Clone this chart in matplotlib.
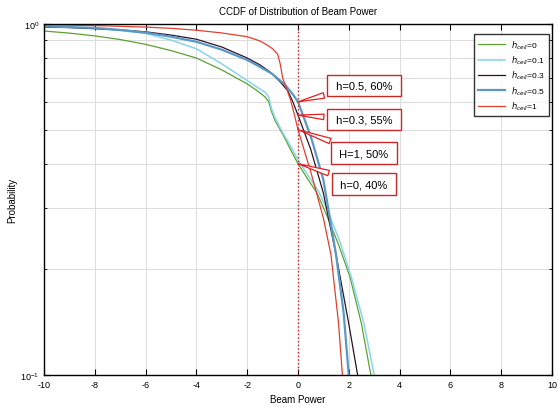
import numpy as np
import matplotlib
matplotlib.use("Agg")
import matplotlib.pyplot as plt
from matplotlib.ticker import LogLocator, NullFormatter, FixedLocator

plt.rcParams['font.family'] = ['Liberation Sans', 'DejaVu Sans']
plt.rcParams['axes.unicode_minus'] = False

# CCDF curves (x = beam power, p = probability)
x_h0 = [-10, -9, -8, -7, -6, -5, -4, -3, -2, -1.6, -1.3, -1.15, -1.05, -0.9,
        -0.6, -0.3, 0, 0.4, 0.75, 1.14, 1.6, 2.05, 2.5, 2.87]
p_h0 = [0.955, 0.942, 0.925, 0.903, 0.875, 0.84, 0.80, 0.74, 0.675, 0.645, 0.62,
        0.60, 0.565, 0.53, 0.485, 0.44, 0.40, 0.36, 0.33, 0.284, 0.235, 0.19, 0.14, 0.10]

x_h01 = [-10, -9, -8, -7, -6, -5, -4, -3, -2, -1.6, -1.3, -1.15, -1.05, -0.9,
         -0.6, -0.3, 0, 0.4, 0.8, 1.2, 1.65, 2.1, 2.6, 3.0]
p_h01 = [0.985, 0.978, 0.97, 0.958, 0.94, 0.90, 0.85, 0.77, 0.69, 0.66, 0.64,
         0.62, 0.575, 0.54, 0.49, 0.45, 0.41, 0.37, 0.335, 0.29, 0.24, 0.19, 0.14, 0.10]

x_h03 = [-10, -9, -8, -7, -6, -5, -4, -3, -2, -1.5, -1.1, -0.7, -0.4, -0.2,
         0, 0.5, 1.0, 1.5, 2.0, 2.35]
p_h03 = [0.98, 0.977, 0.97, 0.962, 0.95, 0.93, 0.905, 0.86, 0.80, 0.765, 0.73,
         0.684, 0.645, 0.60, 0.55, 0.44, 0.33, 0.22, 0.14, 0.10]

x_h05 = [-10, -9, -8, -7, -6, -5, -4, -3, -2, -1.5, -1.0, -0.5, -0.2, 0,
         0.5, 1.0, 1.5, 1.8, 2.0]
p_h05 = [0.985, 0.98, 0.975, 0.962, 0.945, 0.92, 0.89, 0.845, 0.79, 0.755, 0.72,
         0.67, 0.63, 0.60, 0.48, 0.36, 0.22, 0.15, 0.10]

x_h1 = [-10, -8, -6, -5, -4, -3, -2, -1.5, -1.2, -1.0, -0.8, -0.7, -0.6, -0.45,
        -0.3, -0.15, 0, 0.5, 1.0, 1.3, 1.6, 1.75]
p_h1 = [0.995, 0.99, 0.98, 0.972, 0.96, 0.943, 0.92, 0.895, 0.87, 0.85, 0.82,
        0.77, 0.70, 0.655, 0.61, 0.555, 0.50, 0.38, 0.28, 0.22, 0.14, 0.10]

labels = [r'$h_{cell}$=0', r'$h_{cell}$=0.1', r'$h_{cell}$=0.3',
          r'$h_{cell}$=0.5', r'$h_{cell}$=1']

# callouts: (text, probability at x=0, box centre probability)
notes = ["h=0.5, 60%", "h=0.3, 55%", "H=1, 50%", "h=0, 40%"]
note_p = [0.60, 0.55, 0.50, 0.40]
note_box_p = [0.668, 0.534, 0.429, 0.350]

fig = plt.figure(figsize=(5.58, 4.10), dpi=100)
ax = fig.add_axes([0.079, 0.083, 0.910, 0.856])

ax.plot(x_h0, p_h0, color='#5fa032', lw=0.9, label=labels[0])
ax.plot(x_h01, p_h01, color='#86d6ea', lw=1.1, label=labels[1])
ax.plot(x_h03, p_h03, color='#2a1426', lw=0.9, label=labels[2])
ax.plot(x_h05, p_h05, color='#5b98c4', lw=1.6, label=labels[3])
ax.plot(x_h1, p_h1, color='#e0402e', lw=0.9, label=labels[4])

ax.axvline(0, color='#d02020', ls=':', lw=1.0)

for t, p, pb in zip(notes, note_p, note_box_p):
    ax.annotate(' ' + t + ' ', xy=(0, p), xytext=(2.6, pb), ha='center', va='center',
                fontsize=8,
                bbox=dict(boxstyle='square,pad=0.5', fc='white', ec='#c82828', lw=1.0),
                arrowprops=dict(arrowstyle='wedge,tail_width=0.5', fc='white',
                                ec='#e02020', lw=0.9, shrinkB=0))

ax.set_yscale('log')
ax.set_xlim(-10, 10)
ax.set_ylim(0.1, 1)
ax.xaxis.set_major_locator(FixedLocator(np.arange(-10, 11, 2)))
ax.yaxis.set_major_locator(FixedLocator([0.1, 1]))
ax.yaxis.set_minor_locator(LogLocator(base=10, subs=np.arange(2, 10)))
ax.yaxis.set_minor_formatter(NullFormatter())
ax.grid(True, which='major', color='#dcdcdc', lw=0.7)
ax.grid(True, which='minor', axis='y', color='#dcdcdc', lw=0.7)
ax.tick_params(which='both', direction='in', top=True, right=True, labelsize=6.5)
ax.tick_params(which='major', length=4)
ax.tick_params(which='minor', length=2)
for s in ax.spines.values():
    s.set_linewidth(1.0)

ax.set_title('CCDF of Distribution of Beam Power', fontsize=7, pad=7)
ax.set_xlabel('Beam Power', fontsize=7, labelpad=4)
ax.set_ylabel('Probability', fontsize=7, labelpad=2)

leg = ax.legend(loc='upper right', fontsize=6, frameon=True, fancybox=False,
                edgecolor='black', handlelength=3.2, borderpad=0.5,
                labelspacing=0.35, borderaxespad=0, bbox_to_anchor=(0.995, 0.972))
leg.get_frame().set_linewidth(1.0)

fig.savefig('out.png', dpi=100)
